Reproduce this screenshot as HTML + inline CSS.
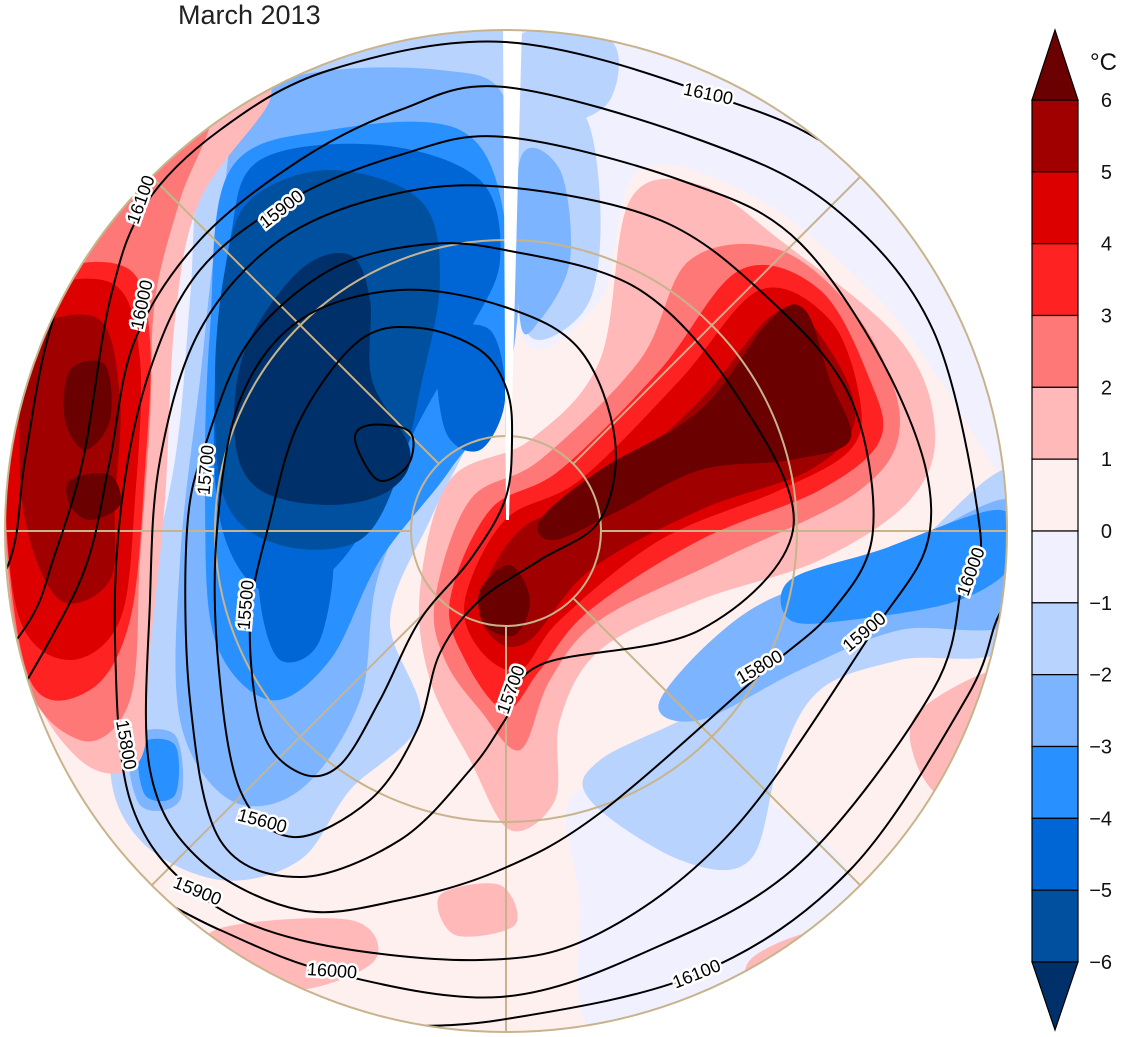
<!DOCTYPE html>
<html><head><meta charset="utf-8">
<style>
html,body{margin:0;padding:0;background:#fff;overflow:hidden;}
svg{display:block;font-family:"Liberation Sans",sans-serif;}
</style></head>
<body>
<svg id="chart" width="1125" height="1037" viewBox="0 0 1125 1037" xmlns="http://www.w3.org/2000/svg">
<defs><clipPath id="disk"><circle cx="506" cy="531" r="501"/></clipPath></defs>
<text x="178" y="24" font-size="27" fill="#222">March 2013</text>
<g id="map" clip-path="url(#disk)">
<rect x="0" y="0" width="1125" height="1037" fill="#fff0f0"/>
<g id="fills"></g>
<g id="grat"></g>
<polygon points="503,25 522,25 509,520 506,520" fill="#fff"/>
<g id="contours"></g>
</g>
<circle cx="506" cy="531" r="501" fill="none" stroke="#c8b48c" stroke-width="2"/>
<g id="cbar"></g>
<g id="labels"></g>
</svg>
<script>
const cbLevels=[6,5,4,3,2,1,0,-1,-2,-3,-4,-5,-6];
const cbColors=["#6b0000","#a00000","#dc0000","#ff2222","#ff7878","#ffb9b9","#fff0f0","#f0f0ff","#b9d3ff","#7db4ff","#2890ff","#0066d6","#0050a0","#00306a"];
const contourLevels=[15400,15500,15600,15700,15800,15900,16000,16100,16200];
const NS="http://www.w3.org/2000/svg";
function mk(tag,attrs,parent){const e=document.createElementNS(NS,tag);for(const k in attrs)e.setAttribute(k,attrs[k]);parent.appendChild(e);return e;}
function smooth(p,closed){const n=p.length;let d="M"+p[0][0]+","+p[0][1];
const get=i=>closed?p[(i+n)%n]:p[Math.max(0,Math.min(n-1,i))];
const segs=closed?n:n-1;
for(let i=0;i<segs;i++){const p0=get(i-1),p1=get(i),p2=get(i+1),p3=get(i+2);
d+=" C"+(p1[0]+(p2[0]-p0[0])/6).toFixed(1)+","+(p1[1]+(p2[1]-p0[1])/6).toFixed(1)+" "+(p2[0]-(p3[0]-p1[0])/6).toFixed(1)+","+(p2[1]-(p3[1]-p1[1])/6).toFixed(1)+" "+p2[0]+","+p2[1];}
return d+(closed?"Z":"");}
const binColor={6:cbColors[0],5:cbColors[1],4:cbColors[2],3:cbColors[3],2:cbColors[4],1:cbColors[5],0:cbColors[7],"-1":cbColors[8],"-2":cbColors[9],"-3":cbColors[10],"-4":cbColors[11],"-5":cbColors[12],"-6":cbColors[13]};
const fills=document.getElementById("fills");
const shapes=[
 [0,[[520,20],[800,50],[1010,280],[1015,480],[940,380],[880,300],[760,200],[640,170],[600,300],[520,330]]],
 [0,[[580,790],[760,800],[860,900],[800,1040],[600,1040],[580,900]]],
 [0,[[160,160],[230,90],[300,60],[240,200],[200,330],[175,480],[170,620],[140,760],[110,700],[130,450]]],
 [-1,[[240,70],[515,30],[515,340],[470,440],[430,520],[390,620],[420,720],[350,790],[300,860],[220,880],[140,840],[110,760],[140,620],[175,460],[190,300],[200,170]]],
 [-1,[[520,35],[610,40],[610,100],[560,125],[520,110]]],
 [-1,[[520,150],[580,110],[600,200],[590,300],[540,340],[520,300]]],
 [-2,[[260,90],[440,70],[512,120],[512,360],[450,430],[380,570],[360,700],[300,790],[230,800],[180,720],[180,560],[200,380],[220,220]]],
 [-2,[[520,160],[560,170],[570,260],[540,320],[520,320]]],
 [-2,[[130,740],[175,735],[180,800],[140,805]]],
 [-3,[[230,170],[330,130],[460,130],[505,220],[505,380],[450,470],[380,560],[330,660],[270,700],[215,640],[205,500],[210,330]]],
 [-3,[[140,745],[175,745],[175,795],[145,795]]],
 [-4,[[260,160],[380,145],[480,180],[500,260],[470,330],[420,420],[370,520],[320,580],[260,590],[220,520],[215,380],[230,240]]],
 [-4,[[440,340],[490,330],[505,400],[480,450],[445,430]]],
 [-4,[[265,530],[330,540],[320,640],[280,660],[260,600]]],
 [-5,[[250,200],[330,170],[420,200],[440,280],[420,390],[400,470],[360,540],[280,545],[225,500],[215,380],[225,270]]],
 [-6,[[300,270],[350,255],[370,300],[372,380],[410,450],[390,490],[330,505],[260,490],[235,440],[245,350]]],
 [-1,[[600,760],[700,710],[800,640],[900,560],[1015,470],[1015,640],[900,660],[820,690],[780,760],[750,860],[680,860],[590,800]]],
 [-2,[[660,700],[750,610],[880,560],[1015,500],[1015,620],[900,630],[800,670],[700,720]]],
 [-3,[[790,580],[880,550],[1000,510],[1015,560],[960,600],[850,620],[790,620]]],
 [1,[[420,590],[450,480],[530,440],[600,360],[630,200],[700,185],[780,240],[900,340],[935,430],[910,500],[820,560],[700,600],[600,650],[560,720],[555,800],[510,830],[470,760],[430,680]]],
 [2,[[435,600],[470,500],[540,460],[640,360],[690,260],[780,250],[860,320],[900,420],[860,490],[720,560],[600,620],[550,680],[520,750],[480,710],[445,660]]],
 [3,[[450,600],[490,510],[560,470],[660,370],[740,270],[820,290],[870,380],[880,440],[820,490],[700,540],[590,610],[540,670],[505,710],[465,660]]],
 [4,[[465,600],[505,520],[580,480],[680,380],[760,290],[830,320],[860,400],[850,450],[780,490],[660,540],[560,620],[520,670],[480,650]]],
 [5,[[480,600],[520,530],[600,490],[700,400],[780,310],[830,350],[855,420],[810,470],[700,510],[590,570],[530,640],[495,640]]],
 [6,[[540,520],[600,470],[700,410],[770,320],[805,310],[830,380],[850,440],[790,460],[700,470],[620,510],[555,540]]],
 [6,[[480,590],[510,565],[530,600],[515,635],[485,625]]],
 [1,[[150,110],[240,80],[270,100],[200,200],[175,320],[165,500],[150,650],[140,760],[80,760],[20,650],[0,400],[60,220]]],
 [2,[[130,120],[210,110],[180,200],[155,300],[150,420],[140,560],[130,700],[80,740],[20,660],[5,400],[60,230]]],
 [3,[[60,270],[130,270],[150,340],[145,470],[130,620],[90,690],[30,680],[5,500],[20,330]]],
 [4,[[40,290],[115,285],[140,360],[135,500],[120,620],[70,660],[20,620],[5,480],[15,350]]],
 [5,[[35,330],[100,320],[120,400],[115,500],[110,580],[60,600],[25,520],[20,400]]],
 [6,[[70,370],[105,365],[110,420],[85,450],[65,420]]],
 [6,[[70,480],[110,475],[120,505],[90,520],[70,505]]],
 [1,[[440,895],[500,885],[515,925],[455,935]]],
 [1,[[215,930],[350,920],[375,960],[300,990],[220,975]]],
 [1,[[920,710],[1010,670],[1010,760],[950,800],[915,760]]],
 [1,[[750,960],[830,930],[850,980],[760,1010]]]
];
shapes.forEach(s=>{const e=mk("path",{d:smooth(s[1],true),fill:binColor[s[0]]},fills);

});
const grat=document.getElementById("grat");
[95,291].forEach(r=>{const c=mk("circle",{cx:506,cy:531,r:r,fill:"none",stroke:"#c8b48c","stroke-width":2},grat);

});
for(let a=0;a<360;a+=45){const t=a*Math.PI/180;const l=mk("line",{x1:506+95*Math.cos(t),y1:531+95*Math.sin(t),x2:506+510*Math.cos(t),y2:531+510*Math.sin(t),stroke:"#c8b48c","stroke-width":2},grat);

}
const cg=document.getElementById("contours");
const contourClosed=[true,true,true,true,true,true,false,false,false];
const contourPts=[
 [[355,440],[370,425],[410,432],[408,465],[378,480]],
 [[507,390],[480,350],[420,328],[360,340],[300,420],[270,520],[250,620],[262,730],[300,773],[340,765],[380,700],[420,620],[470,560],[505,500],[512,440]],
 [[505,307],[580,350],[615,440],[600,520],[540,560],[480,600],[440,653],[417,730],[370,800],[293,837],[240,790],[218,660],[217,530],[240,400],[300,320],[400,290]],
 [[505,250],[640,290],[740,400],[793,530],[700,630],[540,665],[505,720],[470,770],[400,840],[300,877],[220,840],[190,700],[187,530],[207,440],[250,340],[330,270],[420,245]],
 [[505,187],[660,220],[767,297],[850,397],[873,530],[833,610],[757,677],[600,813],[500,870],[400,900],[300,910],[200,860],[150,770],[150,600],[160,460],[200,330],[280,240],[390,195]],
 [[505,137],[680,180],[800,243],[900,397],[930,530],[867,640],[733,830],[600,933],[480,960],[300,940],[193,890],[130,800],[115,640],[122,500],[150,370],[200,270],[290,200],[400,155]],
 [[-20,760],[50,640],[88,560],[110,460],[135,340],[200,240],[300,160],[400,110],[505,87],[700,140],[833,207],[933,330],[980,530],[963,580],[933,690],[800,863],[650,950],[500,997],[333,973],[220,930],[120,880],[40,860]],
 [[-30,700],[30,620],[53,560],[83,460],[110,300],[145,205],[220,130],[330,70],[505,42],[705,93],[860,170],[1040,380],[1040,560],[1000,613],[967,697],[850,870],[700,973],[500,1020],[350,1030],[250,1060]],
 [[-40,650],[10,560],[25,460],[50,330],[100,200],[200,90],[330,0]]
];
contourLevels.forEach((lv,i)=>{const e=mk("path",{d:smooth(contourPts[i],contourClosed[i]),fill:"none",stroke:"#000","stroke-width":2},cg);

});
const lbl=document.getElementById("labels");
const labelVals=[16100,15900,16100,16000,15700,15500,15800,15600,15900,16000,16100,15700,15800,15900,16000];
const labelPos=[[708,95,12],[282,210,-38],[142,200,-70],[143,305,-78],[207,470,-85],[247,605,-85],[125,745,80],[262,822,15],[197,892,22],[332,972,4],[697,975,-22],[512,690,-70],[760,668,-30],[865,633,-40],[972,572,-70]];
labelVals.forEach((v,i)=>{const p=labelPos[i];
const t=mk("text",{x:p[0],y:p[1],"font-size":18,"text-anchor":"middle","dominant-baseline":"middle",fill:"#000",transform:`rotate(${p[2]} ${p[0]} ${p[1]})`,stroke:"#fff","stroke-width":5,"paint-order":"stroke"},lbl);
t.textContent=v;

});
const cb=document.getElementById("cbar");
const cbTop=100,cbBot=962,x0=1032,x1=1078,h=(cbBot-cbTop)/12;
for(let i=0;i<12;i++){const r=mk("rect",{x:x0,y:cbTop+i*h,width:x1-x0,height:h,fill:cbColors[i+1],stroke:"#000","stroke-width":1.2},cb);

}
const ta=mk("polygon",{points:`${x0},${cbTop} ${x1},${cbTop} ${(x0+x1)/2},30`,fill:cbColors[0],stroke:"#000","stroke-width":1.2},cb);


const ba=mk("polygon",{points:`${x0},${cbBot} ${x1},${cbBot} ${(x0+x1)/2},1030`,fill:cbColors[13],stroke:"#000","stroke-width":1.2},cb);


cbLevels.forEach((v,i)=>{const t=mk("text",{x:1112,y:cbTop+i*h+7,"font-size":20,"text-anchor":"end",fill:"#111"},cb);
t.textContent=v<0?"\u2212"+(-v):String(v);

});
const u=mk("text",{x:1090,y:70,"font-size":24,fill:"#111"},cb);
u.textContent="°C";


</script>
</body></html>
